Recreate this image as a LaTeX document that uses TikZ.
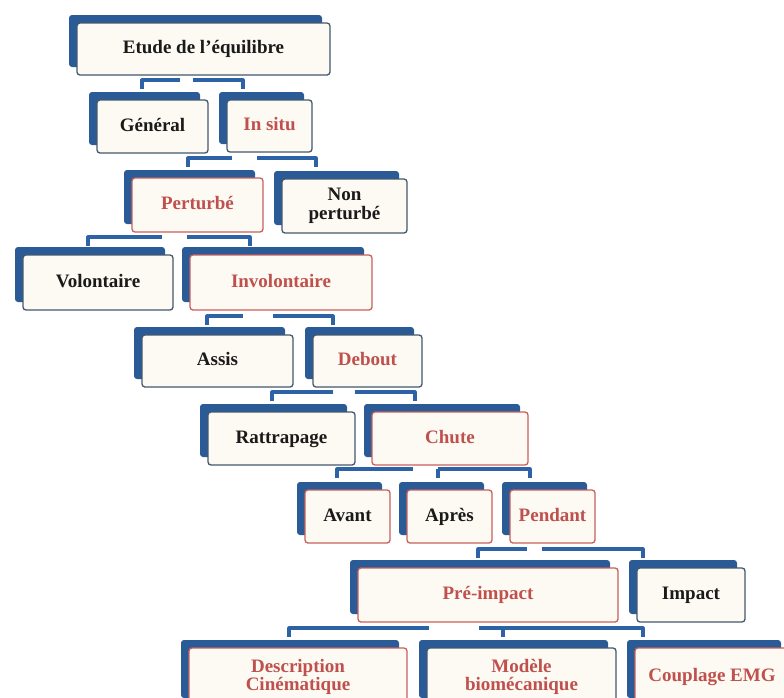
\documentclass[tikz,border=0pt]{standalone}
\usepackage{fontspec}
\setmainfont{Liberation Serif}
\usetikzlibrary{shadows}
\definecolor{backblue}{HTML}{2B5B96}
\definecolor{connblue}{HTML}{2E62A6}
\definecolor{cream}{HTML}{FCFAF2}
\definecolor{darkline}{HTML}{44596F}
\definecolor{redline}{HTML}{C8605C}
\definecolor{rtxt}{HTML}{C0504D}
\definecolor{btxt}{HTML}{1A1A1A}
\begin{document}
\begin{tikzpicture}[x=1pt,y=-1pt,
  box/.style={draw=darkline, line width=1.3pt, fill=cream, rounded corners=3pt,
    inner sep=0pt, align=center, text=btxt,
    font=\fontsize{19}{18.5}\selectfont\bfseries,
    general shadow={fill=backblue, shadow xshift=-8pt, shadow yshift=8pt}},
  one/.style={text height=13pt, text depth=4pt},
  redbox/.style={box, draw=redline},
  redword/.style={text=rtxt},
  conn/.style={draw=connblue, line width=3.2pt, line join=round}]
\useasboundingbox (0,0) rectangle (784,697);
\clip (0,0) rectangle (784,697);
\fill[white] (0,0) rectangle (784,697);

% bracket coordinates: left end, gap start, gap end, right end
\coordinate (b1l) at (142,80);  \coordinate (b1g) at (180,80);  \coordinate (b1h) at (193,80);  \coordinate (b1r) at (243,80);
\coordinate (b2l) at (188,158); \coordinate (b2g) at (232,158); \coordinate (b2h) at (257,158); \coordinate (b2r) at (316,158);
\coordinate (b3l) at (88,237);  \coordinate (b3g) at (162,237); \coordinate (b3h) at (187,237); \coordinate (b3r) at (250,237);
\coordinate (b4l) at (207,316); \coordinate (b4g) at (243,316); \coordinate (b4h) at (273,316); \coordinate (b4r) at (333,316);
\coordinate (b5l) at (272,392); \coordinate (b5g) at (333,392); \coordinate (b5h) at (355,392); \coordinate (b5r) at (415,392);
\coordinate (b6l) at (337,469); \coordinate (b6g) at (413,469); \coordinate (b6h) at (438,469); \coordinate (b6r) at (530,469);
\coordinate (b7l) at (478,549); \coordinate (b7g) at (527,549); \coordinate (b7h) at (542,549); \coordinate (b7r) at (643,549);
\coordinate (b8l) at (289,628); \coordinate (b8g) at (429,628); \coordinate (b8h) at (479,628); \coordinate (b8m) at (503,628); \coordinate (b8r) at (643,628);

\foreach \b in {b1,b2,b3,b4,b5,b6,b7,b8}{
  \draw[conn] ([yshift=-9pt]\b l) -- (\b l) -- (\b g);
  \draw[conn] (\b h) -- (\b r) -- ([yshift=-9pt]\b r);
}
\draw[conn] (b6h) -- ([yshift=-9pt]b6h);
\draw[conn] (b8m) -- ([yshift=-9pt]b8m);

% nodes
\node[box, one, minimum width=253, minimum height=52] (etude) at (203.5,49) {Etude de l'équilibre};

\node[box, one, minimum width=111, minimum height=53] (general) at (152.5,126.5) {Général};
\node[box, one, redword, minimum width=85, minimum height=52] (insitu) at (269.5,126) {In situ};

\node[redbox, one, redword, minimum width=131, minimum height=54] (perturbe) at (197.5,205) {Perturbé};
\node[box, minimum width=125, minimum height=54] (nonpert) at (344.5,206) {Non\\perturbé};

\node[box, one, minimum width=150, minimum height=55] (volont) at (98,282.5) {Volontaire};
\node[redbox, one, redword, minimum width=182, minimum height=55] (involont) at (281,282.5) {Involontaire};

\node[box, one, minimum width=151, minimum height=52] (assis) at (217.5,361) {Assis};
\node[box, one, redword, minimum width=109, minimum height=52] (debout) at (367.5,361) {Debout};

\node[box, one, minimum width=147, minimum height=53] (rattrap) at (281.5,438.5) {Rattrapage};
\node[redbox, one, redword, minimum width=156, minimum height=53] (chute) at (450,438.5) {Chute};

\node[redbox, one, minimum width=85, minimum height=53] (avant) at (347.5,516.5) {Avant};
\node[redbox, one, minimum width=85, minimum height=53] (apres) at (449.5,516.5) {Après};
\node[redbox, one, redword, minimum width=85, minimum height=53] (pendant) at (552.5,516.5) {Pendant};

\node[redbox, one, redword, minimum width=260, minimum height=54] (preimpact) at (488,595) {Pré-impact};
\node[box, one, minimum width=108, minimum height=54] (impact) at (691,595) {Impact};

\node[redbox, redword, minimum width=218, minimum height=58] (descr) at (298,677) {Description\\Cinématique};
\node[box, redword, minimum width=189, minimum height=58] (modele) at (521.5,677) {Modèle\\biomécanique};
\node[redbox, one, redword, minimum width=154, minimum height=58] (couplage) at (712,677) {Couplage EMG};
\end{tikzpicture}
\end{document}
